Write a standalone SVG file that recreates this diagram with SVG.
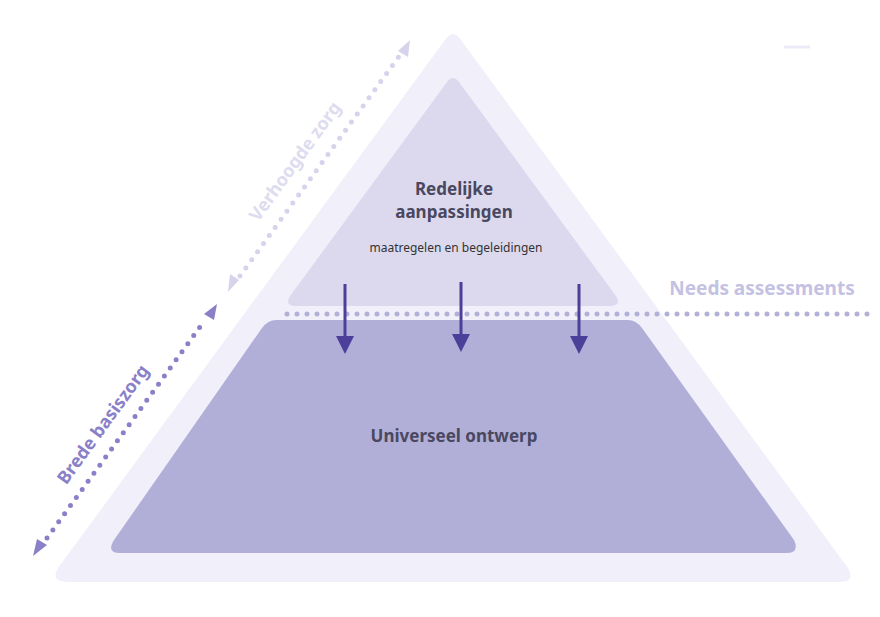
<svg xmlns="http://www.w3.org/2000/svg" width="880" height="617" viewBox="0 0 880 617">
<defs>
<style>
.t{font-family:"Noto Sans","Liberation Sans",sans-serif;font-weight:700}
.dot{fill:none;stroke-linecap:round;stroke-width:5;stroke-dasharray:0 10}
.arr{stroke:#4b3f99;stroke-width:3;fill:none}
</style>
<marker id="ah" viewBox="0 0 10 10" refX="5" refY="5" markerWidth="6" markerHeight="6" orient="auto"><path d="M0,0L10,5L0,10z" fill="#4b3f99"/></marker>
</defs>
<rect width="880" height="617" fill="#fff"/>
<g id="outer"><path d="M445,40Q453,28 461,40L848,568Q856,582 840,582L68,582Q50,582 58,568Z" fill="#f1f0fa"/></g>
<g id="top"><path d="M447,82Q453,74 459,82L616,296Q622,306 610,306L296,306Q284,306 290,296Z" fill="#dcd9ee"/>
<text class="t" x="454" y="195" text-anchor="middle" font-size="17" fill="#4a4860">Redelijke</text>
<text class="t" x="454" y="218" text-anchor="middle" font-size="17" fill="#4a4860">aanpassingen</text>
<text x="456" y="252" text-anchor="middle" font-size="12" fill="#333" font-family="Noto Sans,Liberation Sans,sans-serif">maatregelen en begeleidingen</text></g>
<g id="bottom"><path d="M276,320L628,320Q636,320 642,328L794,540Q800,553 786,553L120,553Q106,553 114,540L262,328Q268,320 276,320Z" fill="#b1afd8"/>
<text class="t" x="454" y="442" text-anchor="middle" font-size="17" fill="#4a4860">Universeel ontwerp</text></g>
<g id="labels">
<text class="t" x="762" y="295" text-anchor="middle" font-size="19" fill="#c4c1e3">Needs assessments</text>
<text class="t" transform="translate(300,165) rotate(-54)" text-anchor="middle" font-size="18" fill="#dedcef">Verhoogde zorg</text>
<text class="t" transform="translate(108,428) rotate(-54)" text-anchor="middle" font-size="18" fill="#8a80c8">Brede basiszorg</text>
<line x1="784" y1="47" x2="810" y2="47" stroke="#ebeaf6" stroke-width="3"/>
</g>
<g id="connectors">
<line class="dot" x1="287" y1="314" x2="870" y2="314" stroke="#b3b0d8"/>
<line class="dot" x1="240" y1="276" x2="400" y2="55" stroke="#d6d3ec"/>
<path d="M410,40L398,51L408,57Z" fill="#d6d3ec"/>
<path d="M228,292L239,280L230,274Z" fill="#d6d3ec"/>
<line class="dot" x1="47" y1="538" x2="205" y2="320" stroke="#8a80c8"/>
<path d="M217,304L204,314L214,320Z" fill="#8a80c8"/>
<path d="M33,556L47,545L37,539Z" fill="#8a80c8"/>
<line class="arr" x1="345" y1="284" x2="345" y2="345" marker-end="url(#ah)"/>
<line class="arr" x1="461" y1="282" x2="461" y2="343" marker-end="url(#ah)"/>
<line class="arr" x1="579" y1="284" x2="579" y2="345" marker-end="url(#ah)"/>
</g>
</svg>
